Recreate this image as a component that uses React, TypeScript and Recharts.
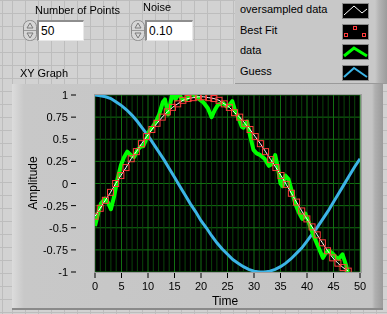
import React from "react";
import { ComposedChart, Line, XAxis, YAxis, CartesianGrid, ReferenceLine } from "recharts";

// best fit / oversampled fit points (50 points)
const fitX = [
  0, 0.98, 1.95, 2.93, 3.9, 4.88, 5.85, 6.83, 7.8, 8.78, 9.75, 10.73, 11.7, 12.68, 13.65, 14.63, 15.6,
  16.58, 17.55, 18.53, 19.5, 20.48, 21.45, 22.43, 23.4, 24.38, 25.35, 26.33, 27.3, 28.28, 29.25, 30.23,
  31.2, 32.18, 33.15, 34.13, 35.1, 36.08, 37.05, 38.03, 39.0, 39.98, 40.95, 41.93, 42.9, 43.88, 44.85,
  45.83, 46.8, 47.78,
];
const fitY = [
  -0.37, -0.28, -0.19, -0.1, 0.0, 0.09, 0.18, 0.28, 0.36, 0.45, 0.53, 0.61, 0.68, 0.75, 0.81, 0.86, 0.9,
  0.94, 0.96, 0.97, 0.98, 0.98, 0.97, 0.96, 0.94, 0.9, 0.86, 0.8, 0.75, 0.68, 0.61, 0.53, 0.45, 0.36,
  0.27, 0.18, 0.09, -0.01, -0.11, -0.21, -0.31, -0.4, -0.49, -0.58, -0.67, -0.76, -0.84, -0.9, -0.95,
  -0.99,
];

// noisy data (green)
const dataX = [
  0, 0.5, 1.1, 1.9, 2.5, 3.0, 3.6, 4.2, 4.9, 5.5, 6.1, 6.8, 7.4, 8.0, 8.7, 9.1, 9.6, 10.2, 10.9, 11.5,
  12.1, 12.8, 13.2, 13.8, 14.6, 15.2, 15.8, 16.4, 17.2, 18.2, 19.1, 20.4, 21.3, 22.0, 22.6, 23.2, 24.2,
  24.8, 25.4, 25.9, 26.4, 27.1, 27.7, 28.0, 28.7, 29.3, 29.9, 30.5, 31.2, 32.0, 32.8, 33.4, 34.0, 34.5,
  35.0, 35.4, 35.9, 36.5, 37.1, 37.8, 38.4, 39.1, 39.7, 40.4, 41.0, 41.6, 42.3, 43.0, 43.6, 44.2, 44.8,
  45.4, 46.0, 46.7, 47.3, 47.7,
];
const dataY = [
  -0.48, -0.36, -0.23, -0.17, -0.22, -0.29, -0.15, 0.04, 0.21, 0.3, 0.36, 0.32, 0.3, 0.38, 0.42, 0.42,
  0.49, 0.59, 0.64, 0.7, 0.78, 0.92, 0.95, 0.78, 1.02, 0.95, 1.02, 0.95, 0.95, 1.02, 0.98, 0.92, 0.85,
  0.75, 0.83, 0.89, 0.91, 0.87, 0.89, 0.93, 0.83, 0.74, 0.64, 0.63, 0.7, 0.53, 0.38, 0.34, 0.32, 0.28,
  0.2, 0.22, 0.32, 0.18, 0.0, -0.03, 0.09, 0.05, -0.08, -0.23, -0.32, -0.4, -0.34, -0.45, -0.55, -0.64,
  -0.74, -0.84, -0.78, -0.76, -0.79, -0.83, -0.85, -0.8, -0.91, -1.0,
];

// initial guess (blue)
const guessX = [
  0, 1, 2, 3, 4, 5, 6, 7, 8, 9, 10, 11, 12, 13, 14, 15, 16, 17, 18, 19, 20, 21, 22, 23, 24, 25, 26, 27,
  28, 29, 30, 31, 32, 33, 34, 35, 36, 37, 38, 39, 40, 41, 42, 43, 44, 45, 46, 47, 48, 49, 50,
];
const guessY = [
  1.0, 0.99, 0.98, 0.96, 0.92, 0.88, 0.83, 0.77, 0.7, 0.62, 0.54, 0.45, 0.36, 0.27, 0.17, 0.07, -0.03,
  -0.13, -0.23, -0.32, -0.42, -0.5, -0.59, -0.67, -0.74, -0.8, -0.86, -0.9, -0.94, -0.97, -0.99, -1.0,
  -1.0, -0.99, -0.97, -0.94, -0.9, -0.85, -0.79, -0.73, -0.65, -0.57, -0.49, -0.4, -0.31, -0.21, -0.11,
  -0.01, 0.09, 0.19, 0.28,
];

const xTicks = [0, 5, 10, 15, 20, 25, 30, 35, 40, 45, 50];
const xMinor = [1, 2, 3, 4, 6, 7, 8, 9, 11, 12, 13, 14, 16, 17, 18, 19, 21, 22, 23, 24, 26, 27, 28, 29, 31, 32, 33, 34, 36, 37, 38, 39, 41, 42, 43, 44, 46, 47, 48, 49];
const yTicks = [-1, -0.75, -0.5, -0.25, 0, 0.25, 0.5, 0.75, 1];

const legendNames = ["oversampled data", "Best Fit", "data", "Guess"];

const fitPts = fitX.map((x, i) => ({ x, y: fitY[i] }));
const dataPts = dataX.map((x, i) => ({ x, y: dataY[i] }));
const guessPts = guessX.map((x, i) => ({ x, y: guessY[i] }));

const font = '"Liberation Sans", Arial, sans-serif';

function XTick(props: any) {
  const { x, payload } = props;
  return (
    <g>
      <line x1={x} x2={x} y1={273} y2={278} stroke="#000" />
      <text x={x} y={290} textAnchor="middle" fontSize={11} fontFamily={font} fill="#000">
        {payload.value}
      </text>
    </g>
  );
}

function YTick(props: any) {
  const { y, payload } = props;
  return (
    <g>
      <line x1={71} x2={76} y1={y} y2={y} stroke="#000" />
      <text x={68} y={y + 4} textAnchor="end" fontSize={11} fontFamily={font} fill="#000">
        {payload.value}
      </text>
    </g>
  );
}

function Square(props: any) {
  const { cx, cy, index } = props;
  if (cx == null || cy == null) return <g key={index} />;
  return <rect key={index} x={cx - 3} y={cy - 3} width={6} height={6} fill="none" stroke="#FF3C3C" strokeWidth={1} />;
}

function Spinner({ left }: { left: number }) {
  return (
    <svg style={{ position: "absolute", left, top: 20 }} width={14} height={21}>
      <rect x={0.5} y={0.5} width={13} height={20} rx={6} fill="#D6D6D6" stroke="#8C8C8C" />
      <line x1={1} x2={13} y1={10.5} y2={10.5} stroke="#9A9A9A" />
      <path d="M7 3 L10 8 L4 8 Z" fill="none" stroke="#7A7A7A" />
      <path d="M7 18 L10 13 L4 13 Z" fill="none" stroke="#7A7A7A" />
    </svg>
  );
}

function NumBox({ left, width, text }: { left: number; width: number; text: string }) {
  return (
    <div
      style={{
        position: "absolute",
        left,
        top: 20,
        width,
        height: 21,
        boxSizing: "border-box",
        background: "#fff",
        borderTop: "2px solid #8E8E8E",
        borderLeft: "2px solid #8E8E8E",
        borderRight: "1px solid #E8E8E8",
        borderBottom: "1px solid #E8E8E8",
        fontSize: 12,
        lineHeight: "18px",
        paddingLeft: 2,
      }}
    >
      {text}
    </div>
  );
}

function Swatch({ kind, top }: { kind: number; top: number }) {
  return (
    <svg style={{ position: "absolute", left: 342, top }} width={27} height={16}>
      <rect x={0.5} y={0.5} width={26} height={15} fill="#000" stroke="#8A8A8A" />
      {kind === 0 && <polyline points="2,12 12,3 20,10 25,6" fill="none" stroke="#fff" strokeWidth={1} />}
      {kind === 1 && (
        <g fill="none" stroke="#FF3C3C">
          <rect x={2.5} y={9.5} width={3} height={3} />
          <rect x={11.5} y={2.5} width={3} height={3} />
          <rect x={20.5} y={9.5} width={3} height={3} />
        </g>
      )}
      {kind === 2 && <polyline points="2,12 12,4 25,12" fill="none" stroke="#00FF00" strokeWidth={3} />}
      {kind === 3 && <polyline points="2,12 12,3 25,12" fill="none" stroke="#3CB4E6" strokeWidth={2} />}
    </svg>
  );
}

export default function App() {
  const panelBg =
    "repeating-linear-gradient(to right, #BDBDBD 0px, #BDBDBD 1px, transparent 1px, transparent 13px), repeating-linear-gradient(to bottom, #BDBDBD 0px, #BDBDBD 1px, #D2D2D2 1px, #D2D2D2 13px)";
  return (
    <div
      style={{
        position: "fixed",
        left: 0,
        top: 0,
        width: 387,
        height: 314,
        overflow: "hidden",
        background: panelBg,
        backgroundPosition: "12px 0px",
        fontFamily: font,
        fontSize: 11,
        color: "#000",
      }}
    >
      {/* controls */}
      <div style={{ position: "absolute", left: 35, top: 4 }}>Number of Points</div>
      <Spinner left={23} />
      <NumBox left={37} width={47} text="50" />
      <div style={{ position: "absolute", left: 143, top: 1 }}>Noise</div>
      <Spinner left={131} />
      <NumBox left={145} width={48} text="0.10" />

      {/* legend */}
      <div
        style={{
          position: "absolute",
          left: 235,
          top: 0,
          width: 152,
          height: 83,
          background: "linear-gradient(to right, #C8C8C8 0px, #C8C8C8 140px, #B4B4B4 144px, #9C9C9C 152px)",
          borderBottom: "1px solid #9A9A9A",
        }}
      />
      {legendNames.map((n, i) => (
        <div key={n} style={{ position: "absolute", left: 240, top: 3 + i * 20.7 }}>
          {n}
        </div>
      ))}
      {legendNames.map((n, i) => (
        <Swatch key={n + "s"} kind={i} top={3 + i * 20.7} />
      ))}

      <div style={{ position: "absolute", left: 20, top: 67 }}>XY Graph</div>

      {/* graph frame */}
      <div
        style={{
          position: "absolute",
          left: 12,
          top: 84,
          width: 371,
          height: 224,
          background:
            "linear-gradient(to right, #DCDCDC 0px, #C8C8C8 12px, #C4C4C4 360px, #B0B0B0 363px, #9A9A9A 371px)",
          borderBottom: "2px solid #8A8A8A",
        }}
      />

      <div style={{ position: "absolute", left: 0, top: 0 }}>
        <ComposedChart width={387} height={314} margin={{ top: 95, right: 27, left: 0, bottom: 0 }}>
          <CartesianGrid fill="#000" stroke="#127012" strokeWidth={1} />
          {xMinor.map((v) => (
            <ReferenceLine key={v} x={v} stroke="#0A440A" strokeWidth={1} />
          ))}
          <XAxis
            dataKey="x"
            type="number"
            domain={[0, 50]}
            ticks={xTicks}
            interval={0}
            height={42}
            axisLine={false}
            tickLine={false}
            tick={<XTick />}
            allowDataOverflow
          />
          <YAxis
            dataKey="y"
            type="number"
            domain={[-1, 1]}
            ticks={yTicks}
            interval={0}
            width={95}
            axisLine={false}
            tickLine={false}
            tick={<YTick />}
            allowDataOverflow
          />
          <Line data={guessPts} dataKey="y" stroke="#3CB4E6" strokeWidth={3} dot={false} isAnimationActive={false} />
          <Line data={dataPts} dataKey="y" stroke="#00FF00" strokeWidth={4} strokeLinejoin="round" dot={false} isAnimationActive={false} />
          <Line data={fitPts} dataKey="y" stroke="none" dot={Square} isAnimationActive={false} />
          <Line data={fitPts} dataKey="y" stroke="#FFFFFF" strokeWidth={1} dot={false} isAnimationActive={false} />
          <text x={225} y={305} textAnchor="middle" fontSize={12} fontFamily={font}>
            Time
          </text>
          <text x={37} y={183} textAnchor="middle" fontSize={12} fontFamily={font} transform="rotate(-90 37 183)">
            Amplitude
          </text>
        </ComposedChart>
      </div>
      <div
        style={{
          position: "absolute",
          left: 94,
          top: 94,
          width: 266,
          height: 177,
          border: "1px solid #9C9C9C",
          pointerEvents: "none",
        }}
      />
    </div>
  );
}
